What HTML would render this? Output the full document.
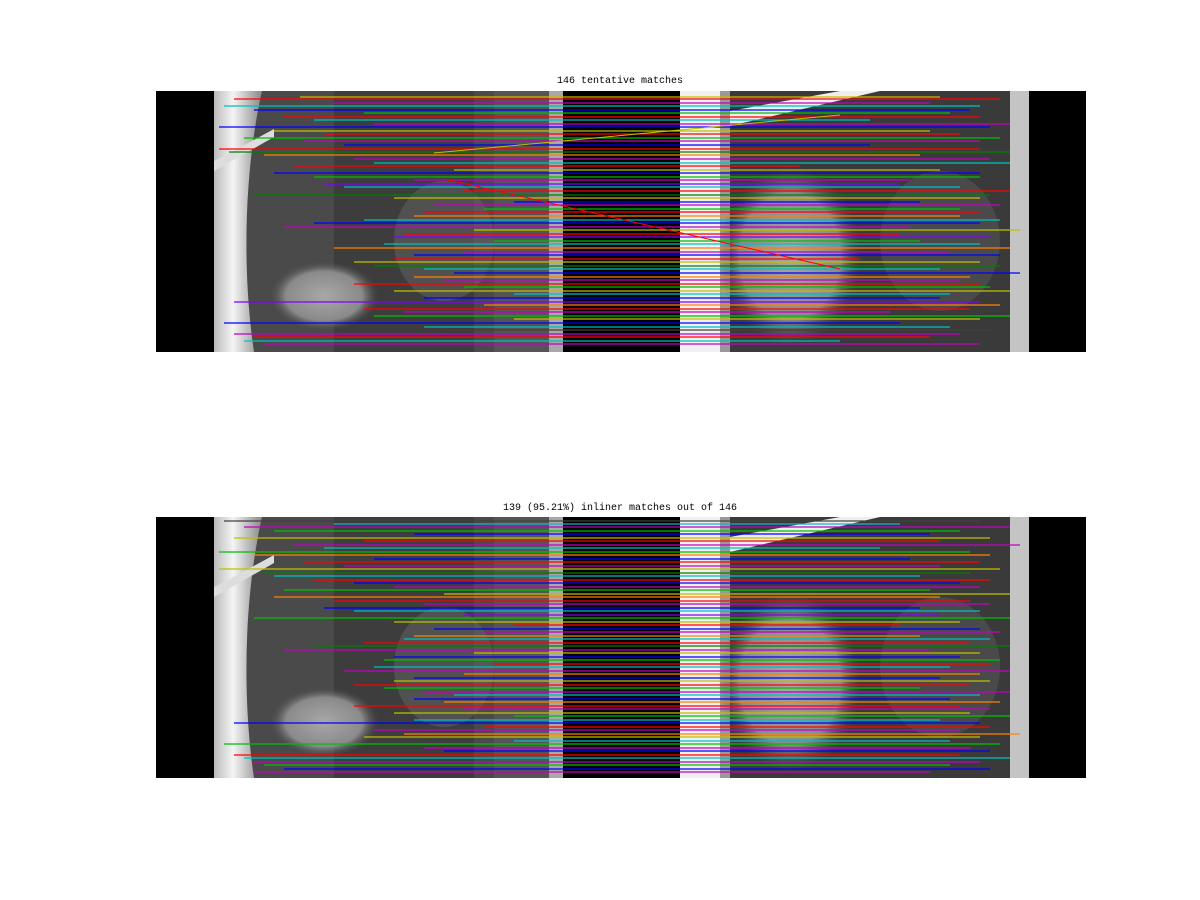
<!DOCTYPE html>
<html><head><meta charset="utf-8">
<style>
html,body{margin:0;padding:0;background:#fff;}
body{width:1200px;height:900px;overflow:hidden;}
svg{display:block;}
text{font-family:"Liberation Mono",monospace;font-size:10px;fill:#000;}
</style></head>
<body>
<svg id="fig" width="1200" height="900">
<defs>
<linearGradient id="postL" x1="0" x2="1"><stop offset="0" stop-color="#bbb"/><stop offset="0.4" stop-color="#f4f4f4"/><stop offset="1" stop-color="#888"/></linearGradient>
<radialGradient id="jag" cx="0.5" cy="0.5" r="0.5"><stop offset="0" stop-color="#a8a8a8"/><stop offset="0.7" stop-color="#8a8a8a"/><stop offset="1" stop-color="#4a4a4a" stop-opacity="0"/></radialGradient>
<g id="photo">
<rect x="0" y="0" width="349" height="261" fill="#4a4a4a"/>
<rect x="120" y="0" width="140" height="261" fill="#383838" opacity="0.7"/>
<rect x="280" y="0" width="69" height="261" fill="#555"/>
<path d="M0,0 L48,0 C30,80 28,180 40,261 L0,261 Z" fill="url(#postL)"/>
<path d="M0,70 L12,64 L60,38 L60,46 L0,80 Z" fill="#ddd"/>
<ellipse cx="110" cy="205" rx="55" ry="35" fill="url(#jag)"/>
<ellipse cx="230" cy="150" rx="50" ry="60" fill="#666" opacity="0.5"/>
<rect x="335" y="0" width="14" height="261" fill="#a8a8a8"/>
</g>
<g id="photoR">
<rect x="0" y="0" width="349" height="261" fill="#3a3a3a"/>
<rect x="0" y="0" width="40" height="261" fill="#f0f0f0"/>
<rect x="40" y="0" width="10" height="261" fill="#999"/>
<path d="M50,20 L160,0 L200,0 L50,35 Z" fill="#eee"/>
<ellipse cx="110" cy="165" rx="72" ry="90" fill="url(#jag)"/>
<ellipse cx="260" cy="150" rx="60" ry="70" fill="#555" opacity="0.6"/>
<rect x="330" y="0" width="19" height="261" fill="#c4c4c4"/>
</g>
</defs>
<g id="p1"></g>
<g id="p2"></g>
<text x="620" y="83" text-anchor="middle">146 tentative matches</text>
<text x="620" y="510" text-anchor="middle">139 (95.21%) inliner matches out of 146</text>
</svg>
<script>
const palette = ["#ff0000","#00c000","#0000ff","#00c0c0","#c000c0","#c0c000","#ff8000","#8000ff","#008000","#404040"];
const p1Y  = [6,8,12,15,19,22,26,29,33,36,40,43,47,50,54,58,61,64,68,72,75,79,82,86,89,93,96,100,104,107,111,114,118,121,125,129,132,136,139,143,146,150,153,157,161,164,168,171,175,178,182,186,189,193,196,200,203,207,211,214,218,221,225,228,232,236,239,243,246,250,253];
const p1X1 = [86,20,120,10,40,150,70,100,160,5,60,110,30,90,130,5,15,50,140,160,80,240,60,100,200,110,130,250,40,180,300,220,270,210,200,150,100,70,260,190,180,280,170,120,250,200,180,140,160,210,240,200,230,140,250,180,300,210,20,270,150,190,160,300,10,210,230,20,40,30,50];
const p1X2 = [260,320,250,300,290,270,300,190,330,310,250,280,320,300,190,300,330,240,310,330,120,260,300,300,230,220,280,330,310,300,240,320,280,300,280,320,300,230,340,220,310,240,300,330,270,320,180,300,320,260,340,290,280,300,310,330,270,260,300,320,290,210,330,300,220,270,310,280,250,160,300];
const p1C  = [5,0,4,3,2,1,0,3,4,2,5,0,1,4,2,0,8,6,4,3,0,5,2,1,4,7,3,0,8,5,2,4,1,0,6,3,2,4,5,0,7,1,3,6,4,2,0,5,8,3,2,6,4,0,1,5,3,2,7,6,0,4,1,5,2,3,9,4,0,3,4];
const p1Out = [[220,62,160,24,5],[230,88,160,178,0]];
const p2Y  = [4,7,10,14,17,21,24,28,31,35,38,42,45,49,52,56,59,63,66,70,73,77,80,84,87,91,94,98,101,105,108,112,115,119,122,126,129,133,136,140,143,147,150,154,157,161,164,168,171,175,178,182,185,189,192,196,199,203,206,210,213,217,220,224,227,231,234,238,241,245,248,252,255];
const p2X1 = [10,120,30,60,200,20,150,80,110,5,40,160,90,130,5,50,60,100,140,180,70,230,60,120,210,110,140,250,40,180,300,220,270,200,190,150,100,70,260,180,170,280,160,130,250,200,180,140,170,210,240,200,230,140,250,180,300,200,20,270,160,190,150,300,10,210,230,20,30,40,50,70,40];
const p2X2 = [300,220,330,280,250,310,260,340,200,290,310,230,300,260,320,290,240,310,280,300,250,330,260,290,310,240,300,260,330,280,220,300,320,240,310,290,330,250,300,280,320,310,270,330,300,260,310,290,240,330,300,270,320,280,310,290,330,260,300,310,280,340,300,270,320,290,310,280,330,300,270,310,250];
const p2C  = [9,3,4,1,2,5,0,4,3,1,6,2,0,4,5,8,3,0,2,4,1,5,6,0,4,2,3,7,1,5,0,2,4,6,3,0,8,4,5,2,1,0,3,4,6,2,5,0,1,4,3,2,6,0,4,5,1,3,2,0,4,6,5,3,1,4,2,0,3,4,1,2,4];

const NS="http://www.w3.org/2000/svg";
const imgH=261;
function xL(v,px){return px+58+v;}
function xR(v,px){return px+524+v;}
function yS(v,py){return py+v;}
function drawPanel(gid,py,Y,X1,X2,C,out){
  const px=156;
  const g=document.getElementById(gid);
  const bg=document.createElementNS(NS,'rect');
  bg.setAttribute('x',px);bg.setAttribute('y',py);bg.setAttribute('width',930);bg.setAttribute('height',imgH);bg.setAttribute('fill','#000');
  
  
  g.appendChild(bg);
  const u1=document.createElementNS(NS,'use');
  u1.setAttribute('href','#photo');u1.setAttribute('x',px+58);u1.setAttribute('y',py);
  
  
  g.appendChild(u1);
  const u2=document.createElementNS(NS,'use');
  u2.setAttribute('href','#photoR');u2.setAttribute('x',px+524);u2.setAttribute('y',py);
  
  
  g.appendChild(u2);
  for(let i=0;i<Y.length;i++){
    const l=document.createElementNS(NS,'line');
    l.setAttribute('x1',xL(X1[i],px));l.setAttribute('x2',xR(X2[i],px));
    l.setAttribute('y1',yS(Y[i],py));l.setAttribute('y2',yS(Y[i],py));
    l.setAttribute('stroke',palette[C[i]]);l.setAttribute('stroke-width',1.2);
    
    
    g.appendChild(l);
  }
  out.forEach(o=>{
    const l=document.createElementNS(NS,'line');
    l.setAttribute('x1',xL(o[0],px));l.setAttribute('y1',yS(o[1],py));
    l.setAttribute('x2',xR(o[2],px));l.setAttribute('y2',yS(o[3],py));
    l.setAttribute('stroke',palette[o[4]]);l.setAttribute('stroke-width',1);
    
    
    g.appendChild(l);
  });
}
drawPanel('p1',91,p1Y,p1X1,p1X2,p1C,p1Out);
drawPanel('p2',517,p2Y,p2X1,p2X2,p2C,[]);
</script>
</body></html>
